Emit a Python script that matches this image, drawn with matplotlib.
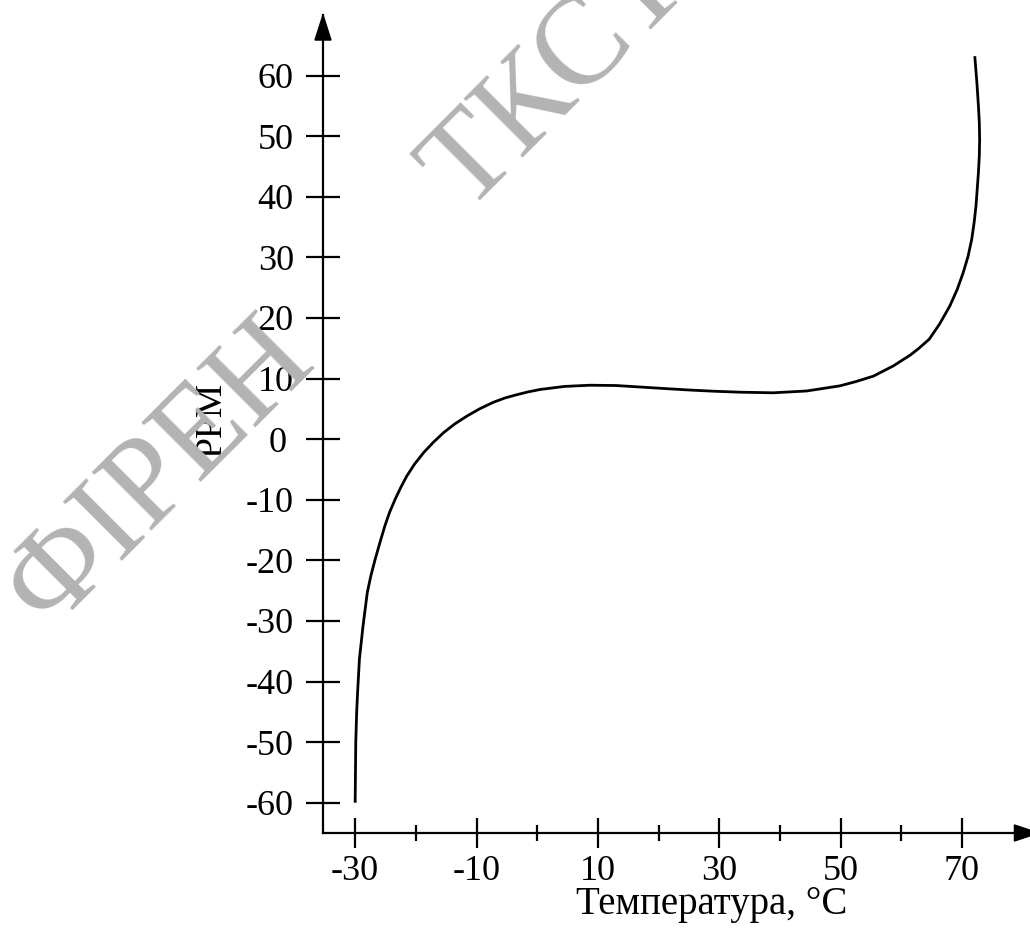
import matplotlib
matplotlib.use("Agg")
import matplotlib.pyplot as plt
from matplotlib.patches import Polygon

plt.rcParams['font.family'] = ['Liberation Serif', 'DejaVu Serif']

# temperature, degC  /  frequency deviation, ppm
temp = [-30.0, -29.95, -29.9, -29.75, -29.6, -29.3, -28.7, -28.0, -27.4, -26.7,
        -25.9, -25.1, -24.3, -23.4, -22.5, -21.5, -20.2, -18.7, -17.1, -15.4,
        -13.6, -11.6, -9.5, -7.2, -5.3, -3.5, -1.5, 0.5, 4.5, 8.7,
        13.0, 17.0, 21.0, 25.2, 29.3, 33.4, 38.9, 44.4, 49.9, 52.5,
        55.4, 58.7, 61.5, 62.9, 64.6, 66.3, 68.0, 69.2, 70.2, 71.0,
        71.6, 72.0, 72.3, 72.5, 72.7, 72.85, 72.9, 72.85, 72.7, 72.45,
        72.1]
ppm = [-60.0, -55.0, -50.0, -45.0, -41.8, -36.3, -30.8, -25.3, -22.5, -19.8,
       -17.0, -14.3, -12.0, -9.9, -8.0, -6.1, -4.1, -2.2, -0.5, 1.1,
       2.5, 3.8, 5.0, 6.1, 6.8, 7.3, 7.8, 8.2, 8.7, 8.9,
       8.85, 8.6, 8.35, 8.1, 7.9, 7.75, 7.65, 7.95, 8.8, 9.5,
       10.4, 12.1, 13.9, 15.0, 16.5, 19.0, 22.0, 24.7, 27.5, 30.2,
       33.0, 35.8, 38.5, 41.2, 44.0, 46.8, 49.5, 52.2, 55.0, 58.8,
       63.2]

yticks = list(range(-60, 61, 10))
ytick_labels = [str(v) if v != 0 else "0\u2009" for v in yticks]
xticks_major = [-30, -10, 10, 30, 50, 70]
xticks_minor = [-20, 0, 20, 40, 60]

W, H = 1030, 941
fig = plt.figure(figsize=(W / 100, H / 100), dpi=100)
ax = fig.add_axes([323 / W, (H - 833) / H, (W - 323) / W, (833 - 15) / H])

# watermark (two words on one diagonal baseline)
fig.text(48 / W, (H - 630) / H, "ФІРЕН", fontsize=91, color='#b3b3b3',
         rotation=45, rotation_mode='anchor', ha='left', va='baseline', zorder=0)
fig.text(466 / W, (H - 212) / H, "ТКСТ", fontsize=91, color='#b3b3b3',
         rotation=45, rotation_mode='anchor', ha='left', va='baseline', zorder=0)

ax.patch.set_alpha(0)
ax.plot(temp, ppm, color='black', lw=2.0, solid_capstyle='butt', solid_joinstyle='round')

ax.set_xlim(-35.3, 81.2)
ax.set_ylim(-65, 70)

for s in ['top', 'right']:
    ax.spines[s].set_visible(False)
for s in ['left', 'bottom']:
    ax.spines[s].set_linewidth(1.6)

ax.set_yticks(yticks)
ax.set_yticklabels(ytick_labels)
ax.set_xticks(xticks_major)
ax.set_xticklabels([str(v) for v in xticks_major])
ax.set_xticks(xticks_minor, minor=True)
ax.tick_params(axis='y', direction='inout', length=24, width=1.6, pad=9, labelsize=26)
ax.tick_params(axis='x', which='major', direction='inout', length=22, width=1.6, pad=5, labelsize=26)
ax.tick_params(axis='x', which='minor', direction='inout', length=12, width=1.6)

# axis arrows
ax.add_patch(Polygon([[0, 1], [-0.0113, 1 - 0.0306], [0.0113, 1 - 0.0306]],
                     closed=True, color='black', transform=ax.transAxes, clip_on=False))
ax.add_patch(Polygon([[1.012, 0], [1.012 - 0.034, 0.0098], [1.012 - 0.034, -0.0098]],
                     closed=True, color='black', transform=ax.transAxes, clip_on=False))

ax.text(0.55, -0.088, "Температура, °C", transform=ax.transAxes, fontsize=28,
        ha='center', va='center')
ax.text(-0.158, 0.505, "PPM", transform=ax.transAxes, fontsize=27, rotation=90,
        ha='center', va='center')

fig.savefig("out.png", dpi=100)
